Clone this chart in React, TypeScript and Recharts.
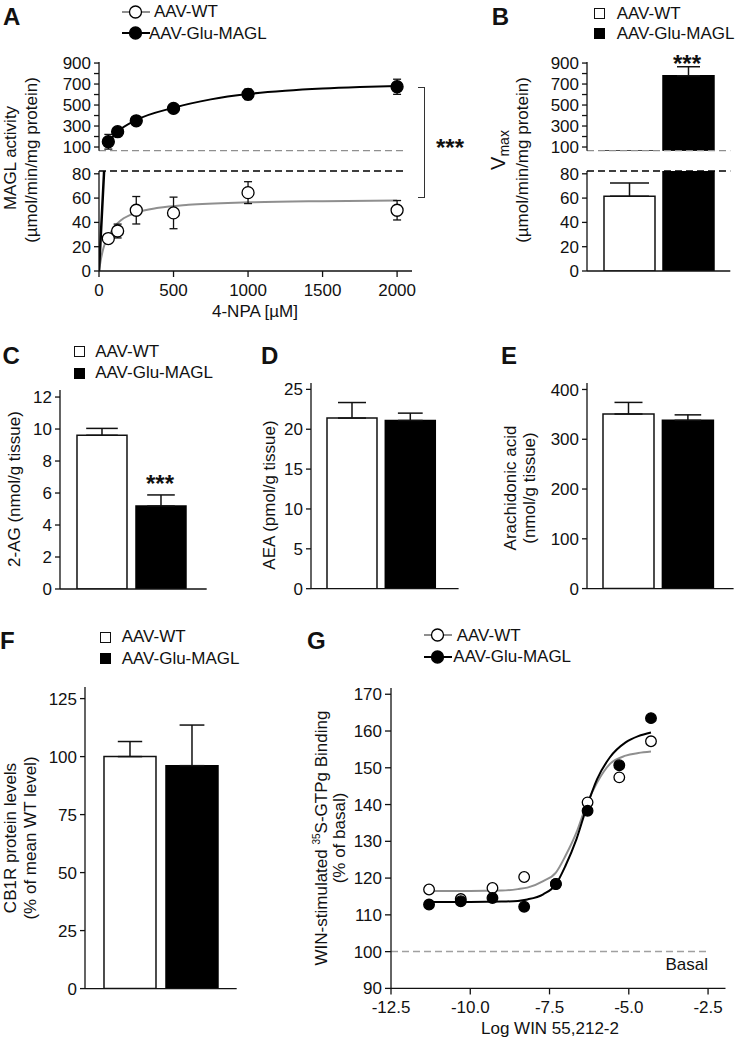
import React from "react";
import {
  BarChart,
  Bar,
  ComposedChart,
  Line,
  Scatter,
  XAxis,
  YAxis,
  ErrorBar,
  ReferenceLine,
} from "recharts";

const FONT = "'Liberation Sans', Arial, Helvetica, sans-serif";
const INK = "#111";
const GREY = "#8f8f8f";

// A - MAGL activity vs 4-NPA (µM)
const npaConc = [62.5, 125, 250, 500, 1000, 2000];
const wtActivity = [26.7, 32.9, 50, 47.8, 64.5, 50];
const wtActivityErr = [2, 5.7, 11.3, 13, 9, 8];
const maglActivity = [150, 246, 350, 468, 602, 674];
const maglActivityErr = [70, 30, 30, 35, 50, 72];
// fitted curves
const wtFitX = [0, 15, 30, 62.5, 100, 150, 250, 400, 600, 1000, 1500, 2000];
const wtFitY = [0, 11, 19, 28, 36, 42, 48, 52, 54.5, 56.5, 57.5, 58];
const maglFitX = [0, 62.5, 125, 250, 500, 750, 1000, 1250, 1500, 1750, 2000];
const maglFitY = [0, 150, 246, 357, 474, 554, 605, 636, 657, 671, 681];
const npaTicks = [0, 500, 1000, 1500, 2000];
const upperTicks = [100, 200, 300, 400, 500, 600, 700, 800, 900];
const lowerTicks = [0, 20, 40, 60, 80];

// B-F - bar panels, order [AAV-WT, AAV-Glu-MAGL]
const vmax = [61.5, 779];
const vmaxErr = [11, 86];
const twoAG = [9.61, 5.19];
const twoAGErr = [0.43, 0.69];
const aea = [21.4, 21.1];
const aeaErr = [1.95, 0.92];
const arachidonic = [350.7, 338];
const arachidonicErr = [23.3, 11];
const cb1r = [100, 96.1];
const cb1rErr = [6.5, 17.5];

// G - WIN-stimulated binding vs log WIN 55,212-2
const winLog = [-11.3, -10.3, -9.3, -8.3, -7.3, -6.3, -5.3, -4.3];
const wtBinding = [116.9, 114.3, 117.3, 120.3, 118.4, 140.6, 147.4, 157.2];
const maglBinding = [112.8, 113.7, 114.6, 112.2, 118.4, 138.3, 150.7, 163.5];
const gFitX = [-11.3, -10, -9, -8.5, -8.2, -7.7, -7.3, -7.0, -6.65, -6.35, -6.0, -5.6, -5.1, -4.7, -4.3];
const wtBindingFit = [116.5, 116.5, 116.6, 117.0, 117.4, 119.2, 121.5, 126, 132.4, 139.6, 146, 151, 153.3, 154.0, 154.4];
const maglBindingFit = [113.5, 113.5, 113.6, 113.8, 114.2, 115.6, 118.3, 123.3, 130.6, 138.7, 146.9, 152.8, 156.9, 158.6, 159.6];
const winTicks = [-12.5, -10, -7.5, -5, -2.5];
const bindingTicks = [90, 100, 110, 120, 130, 140, 150, 160, 170];

const pts = (xs: number[], ys: number[], es?: number[]) =>
  xs.map((x, i) => ({ x, y: ys[i], err: es ? es[i] : 0 }));

const barRow = (v: number[], e: number[]) => [
  { name: "", wt: v[0], magl: v[1], wtErr: [0, e[0]], maglErr: [0, e[1]] },
];

// place a chart so that its plot area lands on (x0,y0)-(x1,y1)
const frame = (x0: number, y0: number, x1: number, y1: number, yw: number, xh: number) => {
  const p = 12;
  return {
    style: { position: "absolute" as const, left: x0 - yw - p, top: y0 - p },
    width: x1 - x0 + yw + 2 * p,
    height: y1 - y0 + xh + 2 * p,
    margin: { top: p, right: p, bottom: p, left: p },
  };
};

const axisProps = (fs: number, size: number, gap: number) => ({
  tick: { fill: INK, fontSize: fs },
  tickLine: { stroke: INK, strokeWidth: 1.3 },
  axisLine: { stroke: INK, strokeWidth: 1.3 },
  tickSize: size,
  tickMargin: gap,
  interval: 0 as const,
});

const oddHundreds = (v: number) => ((v / 100) % 2 === 1 ? String(v) : "");

const dot = (r: number, fill: string) => (p: any) =>
  <circle cx={p.cx} cy={p.cy} r={r} fill={fill} stroke="#000" strokeWidth={1.3} />;

function Txt({ x, cy, size = 17, bold = false, anchor = "start", children }: any) {
  const tx = anchor === "middle" ? "-50%" : anchor === "end" ? "-100%" : "0";
  return (
    <div
      style={{
        position: "absolute",
        left: x,
        top: cy - size / 2,
        fontSize: size,
        lineHeight: `${size}px`,
        fontWeight: bold ? 700 : 400,
        whiteSpace: "nowrap",
        transform: `translateX(${tx})`,
      }}
    >
      {children}
    </div>
  );
}

function VLabel({ cx, cy, size = 17, children }: any) {
  return (
    <div
      style={{
        position: "absolute",
        left: cx,
        top: cy,
        fontSize: size,
        lineHeight: `${size}px`,
        whiteSpace: "nowrap",
        transform: "translate(-50%, -50%) rotate(-90deg)",
      }}
    >
      {children}
    </div>
  );
}

const Letter = ({ x, top, children }: any) => (
  <Txt x={x} cy={top + 8.6} size={24} bold>
    {children}
  </Txt>
);

const Stars = ({ x, cy, size = 24 }: any) => (
  <Txt x={x} cy={cy + size * 0.243} size={size} bold anchor="middle">
    ***
  </Txt>
);

function LineKey({ x, cy, color, fill }: any) {
  return (
    <svg style={{ position: "absolute", left: x, top: cy - 8 }} width={28} height={16}>
      <line x1={0} y1={8} x2={28} y2={8} stroke={color} strokeWidth={2} />
      <circle cx={13.5} cy={8} r={6} fill={fill} stroke="#000" strokeWidth={1.3} />
    </svg>
  );
}

function BoxKey({ x, top, w = 11, h = 11, filled }: any) {
  return (
    <div
      style={{
        position: "absolute",
        left: x,
        top,
        width: w,
        height: h,
        boxSizing: "border-box",
        background: filled ? "#000" : "#fff",
        border: `1.3px solid ${filled ? "#000" : INK}`,
      }}
    />
  );
}

function BarPanel({ x0, y0, x1, y1, domain, ticks, vals, errs, size, gap, caps, fs, padRight = 0 }: any) {
  const f = frame(x0, y0, x1, y1, 50, 10);
  return (
    <div style={f.style}>
      <BarChart width={f.width} height={f.height} margin={f.margin} data={barRow(vals, errs)} barSize={size} barGap={gap}>
        <XAxis dataKey="name" tick={false} tickLine={false} axisLine={{ stroke: INK, strokeWidth: 1.3 }} height={10} padding={{ left: 0, right: padRight }} />
        <YAxis width={50} domain={domain} ticks={ticks} allowDataOverflow {...axisProps(fs, 5, 3)} />
        <Bar dataKey="wt" fill="#fff" stroke={INK} strokeWidth={1.5} isAnimationActive={false}>
          <ErrorBar dataKey="wtErr" width={caps[0]} stroke={INK} strokeWidth={1.5} />
        </Bar>
        <Bar dataKey="magl" fill="#000" stroke="#000" strokeWidth={1.5} isAnimationActive={false}>
          <ErrorBar dataKey="maglErr" width={caps[1]} stroke={INK} strokeWidth={1.5} />
        </Bar>
      </BarChart>
    </div>
  );
}

function PanelA() {
  const up = frame(98.7, 62, 411.7, 150.7, 50, 0);
  const lo = frame(98.7, 170.7, 411.7, 270.7, 50, 30);
  const wtPts = pts(npaConc, wtActivity, wtActivityErr);
  const maglPts = pts(npaConc, maglActivity, maglActivityErr);
  const wtCurve = pts(wtFitX, wtFitY);
  const maglCurve = pts(maglFitX, maglFitY);
  return (
    <>
      <div style={up.style}>
        <ComposedChart width={up.width} height={up.height} margin={up.margin}>
          <XAxis type="number" dataKey="x" domain={[0, 2100]} allowDataOverflow hide />
          <YAxis type="number" dataKey="y" width={50} domain={[65, 910]} ticks={upperTicks} allowDataOverflow tickFormatter={oddHundreds} {...axisProps(17, 5, 3)} />
          <ReferenceLine segment={[{ x: 0, y: 65 }, { x: 2040, y: 65 }]} stroke={GREY} strokeWidth={1.3} strokeDasharray="7 4" />
          <Line data={maglCurve.filter((d) => d.x >= 62.5)} dataKey="y" type="monotone" stroke="#000" strokeWidth={2} dot={false} isAnimationActive={false} />
          <Scatter data={maglPts} shape={dot(6, "#000")} isAnimationActive={false}>
            <ErrorBar dataKey="err" direction="y" width={4} stroke={INK} strokeWidth={1.3} />
          </Scatter>
        </ComposedChart>
      </div>
      <div style={lo.style}>
        <ComposedChart width={lo.width} height={lo.height} margin={lo.margin}>
          <XAxis type="number" dataKey="x" domain={[0, 2100]} ticks={npaTicks} allowDataOverflow height={30} {...axisProps(17, 6, 7)} />
          <YAxis type="number" dataKey="y" width={50} domain={[0, 82.3]} ticks={lowerTicks} allowDataOverflow {...axisProps(17, 5, 3)} />
          <ReferenceLine segment={[{ x: 0, y: 82.3 }, { x: 2040, y: 82.3 }]} stroke="#000" strokeWidth={1.3} strokeDasharray="7 4" />
          <Line data={wtCurve} dataKey="y" type="monotone" stroke={GREY} strokeWidth={2} dot={false} isAnimationActive={false} />
          <Line data={maglCurve} dataKey="y" type="linear" stroke="#000" strokeWidth={2.5} dot={false} isAnimationActive={false} />
          <Scatter data={wtPts} shape={dot(6, "#fff")} isAnimationActive={false}>
            <ErrorBar dataKey="err" direction="y" width={4} stroke={INK} strokeWidth={1.3} />
          </Scatter>
        </ComposedChart>
      </div>
      <Letter x={3} top={8}>A</Letter>
      <LineKey x={121.7} cy={11.7} color={GREY} fill="#fff" />
      <Txt x={154} cy={11.7}>AAV-WT</Txt>
      <LineKey x={121.7} cy={33} color="#000" fill="#000" />
      <Txt x={149} cy={33}>AAV-Glu-MAGL</Txt>
      <VLabel cx={10} cy={158}>MAGL activity</VLabel>
      <VLabel cx={31} cy={160}>(µmol/min/mg protein)</VLabel>
      <Txt x={255} cy={311} anchor="middle">4-NPA [µM]</Txt>
      <div
        style={{
          position: "absolute",
          left: 418.3,
          top: 87.3,
          width: 7,
          height: 111,
          boxSizing: "border-box",
          borderTop: `1.3px solid #333`,
          borderRight: `1.3px solid #333`,
          borderBottom: `1.3px solid #333`,
        }}
      />
      <Stars x={450} cy={141.7} />
    </>
  );
}

function PanelB() {
  const up = frame(586.7, 62, 730, 150.7, 50, 0);
  const lo = frame(586.7, 170.7, 730, 270.7, 50, 10);
  const data = barRow(vmax, vmaxErr);
  return (
    <>
      <div style={up.style}>
        <BarChart width={up.width} height={up.height} margin={up.margin} data={data} barSize={51} barGap={8}>
          <XAxis dataKey="name" hide />
          <YAxis width={50} domain={[65, 910]} ticks={upperTicks} allowDataOverflow tickFormatter={oddHundreds} {...axisProps(17, 5, 3)} />
          <Bar dataKey="wt" fill="#fff" stroke={INK} strokeWidth={1.5} isAnimationActive={false} />
          <Bar dataKey="magl" fill="#000" stroke="#000" strokeWidth={1.5} isAnimationActive={false}>
            <ErrorBar dataKey="maglErr" width={11.5} stroke={INK} strokeWidth={1.5} />
          </Bar>
          <ReferenceLine y={65} stroke={GREY} strokeWidth={1.3} strokeDasharray="7 4" />
        </BarChart>
      </div>
      <div style={lo.style}>
        <BarChart width={lo.width} height={lo.height} margin={lo.margin} data={data} barSize={51} barGap={8}>
          <XAxis dataKey="name" tick={false} tickLine={false} axisLine={{ stroke: INK, strokeWidth: 1.3 }} height={10} />
          <YAxis width={50} domain={[0, 82.3]} ticks={lowerTicks} allowDataOverflow {...axisProps(17, 5, 3)} />
          <Bar dataKey="wt" fill="#fff" stroke={INK} strokeWidth={1.5} isAnimationActive={false}>
            <ErrorBar dataKey="wtErr" width={19.5} stroke={INK} strokeWidth={1.5} />
          </Bar>
          <Bar dataKey="magl" fill="#000" stroke="#000" strokeWidth={1.5} isAnimationActive={false} />
          <ReferenceLine y={82.3} stroke="#000" strokeWidth={1.3} strokeDasharray="7 4" />
        </BarChart>
      </div>
      <Letter x={491.7} top={8}>B</Letter>
      <BoxKey x={594} top={8} />
      <Txt x={616.7} cy={13}>AAV-WT</Txt>
      <BoxKey x={594} top={28} filled />
      <Txt x={616.7} cy={33}>AAV-Glu-MAGL</Txt>
      <VLabel cx={499} cy={150}>
        <span style={{ fontSize: 20 }}>V</span>
        <span style={{ fontSize: 14, position: "relative", top: 4 }}>max</span>
      </VLabel>
      <VLabel cx={521.7} cy={160}>(µmol/min/mg protein)</VLabel>
      <Stars x={687} cy={58} />
    </>
  );
}

function RowCDE() {
  return (
    <>
      <BarPanel x0={60} y0={390} x1={206.7} y1={589} domain={[0, 12.44]} ticks={[0, 2, 4, 6, 8, 10, 12]} vals={twoAG} errs={twoAGErr} size={50} gap={9} caps={[15.8, 13.8]} fs={17} padRight={4} />
      <BarPanel x0={310.7} y0={383.3} x1={458.3} y1={589} domain={[0, 25.8]} ticks={[0, 5, 10, 15, 20, 25]} vals={aea} errs={aeaErr} size={50} gap={8.3} caps={[14, 12.4]} fs={17} padRight={8} />
      <BarPanel x0={586.7} y0={382.7} x1={733.3} y1={588.3} domain={[0, 413]} ticks={[0, 100, 200, 300, 400]} vals={arachidonic} errs={arachidonicErr} size={51} gap={8.4} caps={[14, 13.3]} fs={17} padRight={4.6} />
      <Letter x={2.4} top={347}>C</Letter>
      <Letter x={261} top={347}>D</Letter>
      <Letter x={501} top={347}>E</Letter>
      <BoxKey x={73.8} top={346} w={11} h={11} />
      <Txt x={95.2} cy={351.7}>AAV-WT</Txt>
      <BoxKey x={73.8} top={368} w={11} h={11} filled />
      <Txt x={95.2} cy={372.7}>AAV-Glu-MAGL</Txt>
      <Stars x={160} cy={478.3} />
      <VLabel cx={14.2} cy={489}>2-AG (nmol/g tissue)</VLabel>
      <VLabel cx={269} cy={495}>AEA (pmol/g tissue)</VLabel>
      <VLabel cx={510} cy={487.5}>Arachidonic acid</VLabel>
      <VLabel cx={529} cy={488}>(nmol/g tissue)</VLabel>
    </>
  );
}

function PanelF() {
  return (
    <>
      <BarPanel x0={85} y0={686.7} x1={236.7} y1={988.3} domain={[0, 130]} ticks={[0, 25, 50, 75, 100, 125]} vals={cb1r} errs={cb1rErr} size={52} gap={10} caps={[12.2, 12.4]} fs={17} />
      <Letter x={0} top={632}>F</Letter>
      <BoxKey x={100} top={632} />
      <Txt x={121.7} cy={636.7}>AAV-WT</Txt>
      <BoxKey x={100} top={653} filled />
      <Txt x={121.7} cy={658.3}>AAV-Glu-MAGL</Txt>
      <VLabel cx={9.7} cy={838}>CB1R protein levels</VLabel>
      <VLabel cx={30} cy={838}>(% of mean WT level)</VLabel>
    </>
  );
}

function PanelG() {
  const f = frame(390.5, 688.3, 725, 988.7, 60, 30);
  return (
    <>
      <div style={f.style}>
        <ComposedChart width={f.width} height={f.height} margin={f.margin}>
          <XAxis type="number" dataKey="x" domain={[-12.5, -1.95]} ticks={winTicks} allowDataOverflow height={30} tickFormatter={(v: number) => v.toFixed(1)} {...axisProps(17, 6, 7)} />
          <YAxis type="number" dataKey="y" width={60} domain={[90, 171.7]} ticks={bindingTicks} allowDataOverflow {...axisProps(17, 6, 3)} />
          <ReferenceLine segment={[{ x: -12.5, y: 100 }, { x: -2.5, y: 100 }]} stroke="#a0a0a0" strokeWidth={1.5} strokeDasharray="7 4" />
          <Line data={pts(gFitX, wtBindingFit)} dataKey="y" type="monotone" stroke={GREY} strokeWidth={2} dot={false} isAnimationActive={false} />
          <Line data={pts(gFitX, maglBindingFit)} dataKey="y" type="monotone" stroke="#000" strokeWidth={2} dot={false} isAnimationActive={false} />
          <Scatter data={pts(winLog, wtBinding)} shape={dot(5.3, "#fff")} isAnimationActive={false} />
          <Scatter data={pts(winLog, maglBinding)} shape={dot(5.3, "#000")} isAnimationActive={false} />
        </ComposedChart>
      </div>
      <Letter x={307} top={632}>G</Letter>
      <LineKey x={424} cy={635} color={GREY} fill="#fff" />
      <Txt x={456.7} cy={635}>AAV-WT</Txt>
      <LineKey x={424} cy={656.7} color="#000" fill="#000" />
      <Txt x={453.3} cy={656.7}>AAV-Glu-MAGL</Txt>
      <VLabel cx={319.2} cy={838}>
        WIN-stimulated <sup style={{ fontSize: 10 }}>35</sup>S-GTPg Binding
      </VLabel>
      <VLabel cx={339.2} cy={838}>(% of basal)</VLabel>
      <Txt x={708} cy={964.3} anchor="end">Basal</Txt>
      <Txt x={550} cy={1028} anchor="middle">Log WIN 55,212-2</Txt>
    </>
  );
}

export default function App() {
  return (
    <div
      style={{
        position: "absolute",
        left: 0,
        top: 0,
        width: 742,
        height: 1040,
        background: "#fff",
        color: INK,
        fontFamily: FONT,
        overflow: "hidden",
      }}
    >
      <PanelA />
      <PanelB />
      <RowCDE />
      <PanelF />
      <PanelG />
    </div>
  );
}
